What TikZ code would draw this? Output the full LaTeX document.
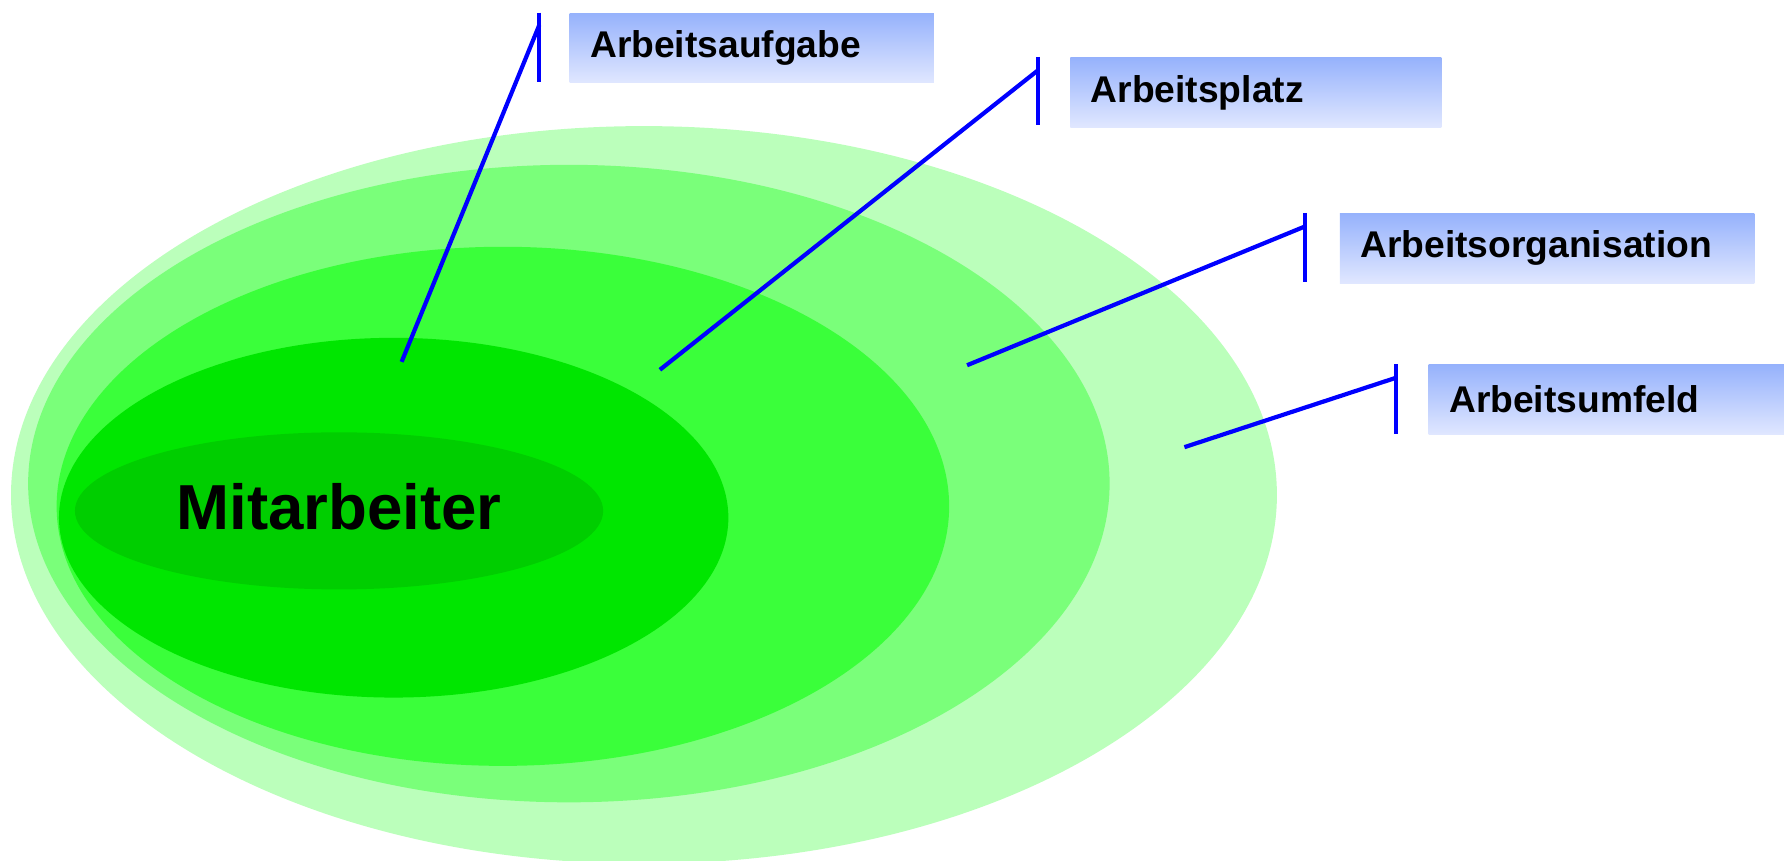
\documentclass[tikz,border=0pt]{standalone}
\usepackage{fontspec}
\setmainfont{Liberation Sans}
\usetikzlibrary{shapes.geometric}
\definecolor{ringA}{RGB}{187,255,187}
\definecolor{ringB}{RGB}{122,255,122}
\definecolor{ringC}{RGB}{58,255,58}
\definecolor{ringD}{RGB}{0,230,0}
\definecolor{ringE}{RGB}{0,206,0}
\definecolor{boxtop}{RGB}{150,178,252}
\definecolor{boxbot}{RGB}{224,231,255}
\definecolor{leader}{RGB}{0,0,255}
\tikzset{
  ring/.style={ellipse, inner sep=0pt, draw=none},
  labelbox/.style={rectangle, anchor=north west, top color=boxtop, bottom color=boxbot,
    draw=none, inner xsep=0.18cm, inner ysep=0pt, minimum height=0.61cm, align=left,
    font=\fontsize{9.3}{11}\selectfont\bfseries},
  leaderline/.style={draw=leader, line width=1.05pt},
}
\begin{document}
\begin{tikzpicture}[x=0.01cm, y=-0.01cm]
\useasboundingbox (0,0) rectangle (1568,756);
% rings
\node[ring, fill=ringA, minimum width=11.12cm, minimum height=6.48cm] (r1) at (566,435) {};
\node[ring, fill=ringB, minimum width=9.50cm, minimum height=5.60cm] (r2) at (500,425) {};
\node[ring, fill=ringC, minimum width=7.84cm, minimum height=4.56cm] (r3) at (442,445) {};
\node[ring, fill=ringD, minimum width=5.88cm, minimum height=3.16cm] (r4) at (346,455) {};
\node[ring, fill=ringE, minimum width=4.64cm, minimum height=1.38cm] (r5) at (298,449) {};
\node[font=\fontsize{15.9}{18}\selectfont\bfseries, inner sep=0pt] (mit) at (298,445) {Mitarbeiter};
% label boxes
\node[labelbox, text width=2.84cm] (b1) at (500,11) {Arbeitsaufgabe};
\node[labelbox, text width=2.90cm] (b2) at (940,50) {Arbeitsplatz};
\node[labelbox, text width=3.28cm] (b3) at (1177,187) {Arbeitsorganisation};
\node[labelbox, text width=2.77cm] (b4) at (1255,320) {Arbeitsumfeld};
% bars and leader endpoints
\coordinate (t1) at (474,11);  \coordinate (u1) at (474,72);  \coordinate (j1) at (474,22);  \coordinate (e1) at (353,318);
\coordinate (t2) at (912,50);  \coordinate (u2) at (912,110); \coordinate (j2) at (912,62);  \coordinate (e2) at (580,325);
\coordinate (t3) at (1147,187);\coordinate (u3) at (1147,248);\coordinate (j3) at (1147,199);\coordinate (e3) at (850,321);
\coordinate (t4) at (1227,320);\coordinate (u4) at (1227,381);\coordinate (j4) at (1227,332);\coordinate (e4) at (1041,393);
\foreach \i in {1,2,3,4}{
  \draw[leaderline] (t\i) -- (u\i);
  \draw[leaderline] (j\i) -- (e\i);
}
\end{tikzpicture}
\end{document}
